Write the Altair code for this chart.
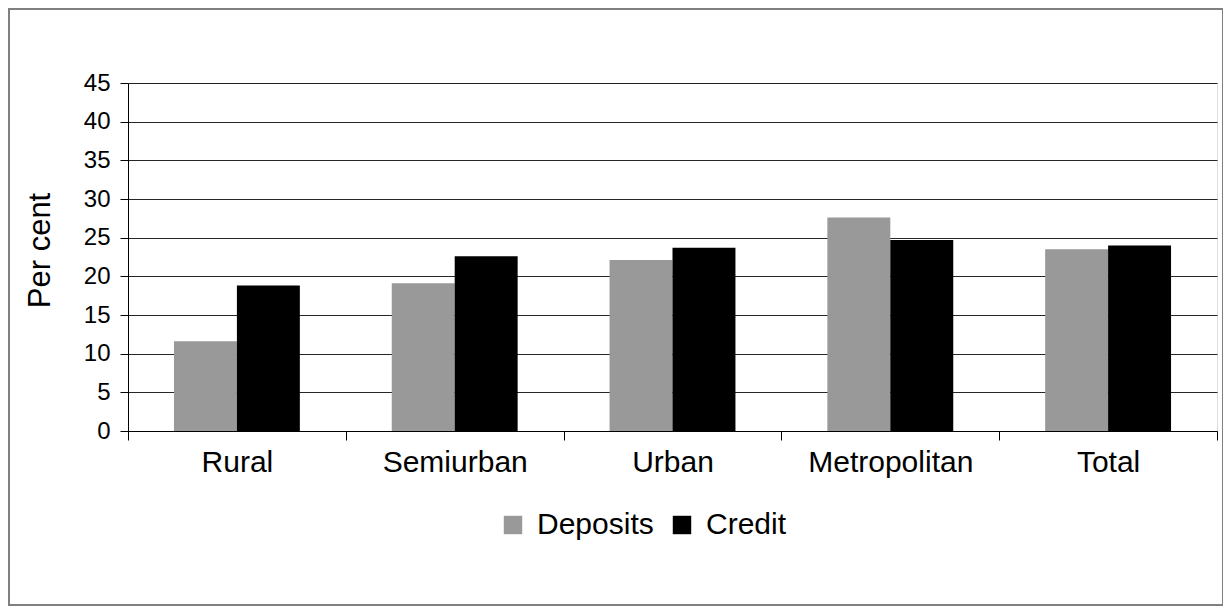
import altair as alt
import pandas as pd

categories = ["Rural", "Semiurban", "Urban", "Metropolitan", "Total"]
series_names = ["Deposits", "Credit"]
deposits = [11.6, 19.1, 22.1, 27.6, 23.5]
credit = [18.8, 22.6, 23.7, 24.7, 24.0]
y_ticks = [0, 5, 10, 15, 20, 25, 30, 35, 40, 45]
colors = ["#999999", "#000000"]

rows = []
for c, d, k in zip(categories, deposits, credit):
    rows.append({"Category": c, "Series": "Deposits", "Value": d})
    rows.append({"Category": c, "Series": "Credit", "Value": k})
df = pd.DataFrame(rows)

FONT = "Liberation Sans"
W, H = 1089, 348

bars = alt.Chart(df).mark_bar().encode(
    x=alt.X("Category:N", sort=categories,
            scale=alt.Scale(paddingInner=0, paddingOuter=0),
            axis=alt.Axis(title=None, labelAngle=0, tickBand="extent",
                          labelFontSize=30, labelFont=FONT, labelColor="#000000",
                          labelPadding=7, tickSize=9, tickColor="#000000",
                          domainColor="#000000", grid=False)),
    xOffset=alt.XOffset("Series:N", sort=series_names,
                        scale=alt.Scale(paddingInner=0, paddingOuter=0.73)),
    y=alt.Y("Value:Q",
            scale=alt.Scale(domain=[0, 45], nice=False),
            axis=alt.Axis(title="Per cent", values=y_ticks, titleFontSize=31,
                          titleFont=FONT, titleFontWeight="normal", titleColor="#000000",
                          titlePadding=27, titleY=167, labelFontSize=24, labelFont=FONT,
                          labelColor="#000000", labelPadding=10, tickSize=8,
                          tickColor="#000000", domainColor="#000000",
                          gridColor="#000000", gridWidth=1, gridOpacity=0.85)),
    color=alt.Color("Series:N", sort=series_names,
                    scale=alt.Scale(domain=series_names, range=colors),
                    legend=alt.Legend(title=None, orient="none", direction="horizontal",
                                      legendX=370, legendY=427, symbolType="square",
                                      symbolSize=340, symbolStrokeWidth=0,
                                      labelFontSize=30, labelFont=FONT,
                                      labelColor="#000000", labelOffset=9,
                                      columnPadding=13, padding=0)),
)

border = alt.Chart(pd.DataFrame({"k": [0]})).mark_rect(
    fill=None, stroke="#808080", strokeWidth=2
).encode(
    x=alt.value(-119), x2=alt.value(W + 6), y=alt.value(-74), y2=alt.value(H + 174)
)

chart = alt.layer(bars, border).properties(
    width=W, height=H,
    padding={"left": 120, "top": 75, "right": 6, "bottom": 176},
    autosize=alt.AutoSizeParams(type="none"),
).configure_view(stroke="#000000", strokeWidth=1).configure(background="white")

chart.save("out.html", embed_options={"renderer": "svg", "actions": False})
